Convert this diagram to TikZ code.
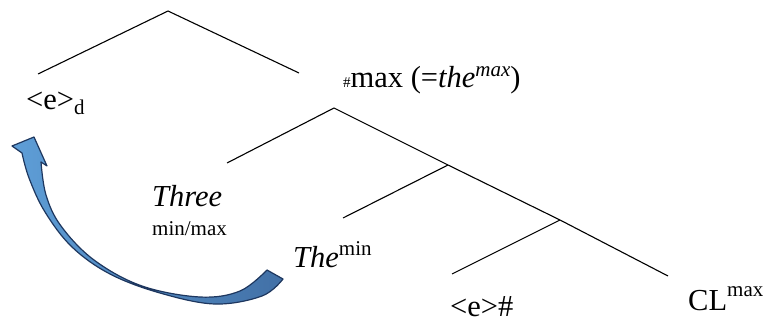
\documentclass[tikz,border=0pt]{standalone}
\usepackage{fontspec}
\setmainfont{Liberation Serif}
\newcommand\smallsz[1]{{\fontsize{21}{22}\selectfont #1}}
\definecolor{arrowlight}{RGB}{94,158,215}
\definecolor{arrowdark}{RGB}{66,112,166}
\definecolor{arrowline}{RGB}{30,55,95}
\begin{document}
\begin{tikzpicture}[x=1pt,y=-1pt,
  branch/.style={line width=1.1pt, black},
  lbl/.style={anchor=base west, inner sep=0pt, font=\fontsize{30.5}{33}\selectfont},
  slbl/.style={anchor=base west, inner sep=0pt, font=\fontsize{21}{22}\selectfont}]
\useasboundingbox (0,0) rectangle (766,326);
% tree points
\coordinate (r) at (168,11);
\coordinate (a1) at (38,74);
\coordinate (a2) at (299,73);
\coordinate (n2) at (334,108);
\coordinate (b1) at (227,163);
\coordinate (n3) at (448,165);
\coordinate (c1) at (343,218);
\coordinate (n4) at (560,220);
\coordinate (d1) at (452,274);
\coordinate (d2) at (668,276);
\draw[branch] (a1) -- (r) -- (a2);
\draw[branch] (b1) -- (n2) -- (n3) -- (n4) -- (d2);
\draw[branch] (n3) -- (c1);
\draw[branch] (n4) -- (d1);
% labels
\node[lbl] (ed) at (26,110) {<e>\raisebox{-5pt}{\smallsz{d}}};
\node[lbl] (max) at (343,88) {{\fontsize{15}{15}\selectfont\#}max (=\textit{the}\raisebox{11pt}{\smallsz{\itshape max}})};
\node[lbl] (three) at (152,207) {\textit{Three}};
\node[slbl] (minmax) at (152,235) {min/max};
\node[lbl] (the) at (293,267) {\textit{The}\raisebox{12pt}{\smallsz{min}}};
\node[lbl] (eh) at (450,316) {<e>\#};
\node[lbl] (cl) at (688,310) {CL\raisebox{14pt}{\smallsz{max}}};
% curved arrow
\shadedraw[left color=arrowlight, right color=arrowdark, draw=arrowline, line width=1.2pt, line join=round]
  plot[smooth, tension=0.6] coordinates {(283,279) (262,296) (215,304) (160,293) (110,274) (72,247) (45,212) (29,178) (22,153)}
  -- (12,146) -- (34,137) -- (47,166) -- (41,162)
  -- plot[smooth, tension=0.6] coordinates {(41,162) (46,195) (61,226) (94,260) (142,286) (200,297) (240,291) (267,270)}
  -- cycle;
\end{tikzpicture}
\end{document}
